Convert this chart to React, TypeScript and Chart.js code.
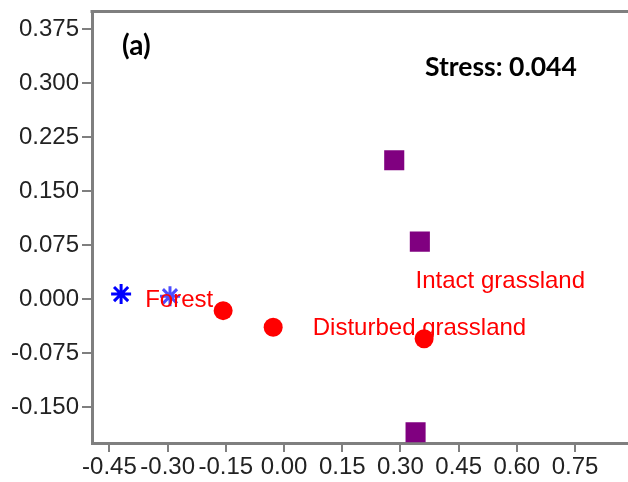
import React, { useEffect, useRef } from "react";
import { Chart, registerables } from "chart.js";

Chart.register(...registerables);

// Forest (blue asterisks)
const forestX = [-0.42, -0.294];
const forestY = [0.007, 0.004];
// Disturbed grassland (red circles)
const disturbedX = [-0.157, -0.028, 0.361];
const disturbedY = [-0.016, -0.039, -0.055];
// Intact grassland (purple squares)
const intactX = [0.284, 0.35, 0.339];
const intactY = [0.193, 0.08, -0.185];

// Group labels and their anchor (left, middle) in data units
const groupLabels = ["Forest", "Intact grassland", "Disturbed grassland"];
const groupLabelX = [-0.358, 0.339, 0.074];
const groupLabelY = [-0.002, 0.025, -0.041];

const xTicks = [-0.45, -0.3, -0.15, 0, 0.15, 0.3, 0.45, 0.6, 0.75];
const yTicks = [-0.15, -0.075, 0, 0.075, 0.15, 0.225, 0.3, 0.375];

const panelLabel = "(a)";
const stressLabel = "Stress: 0.044";

const pts = (xs: number[], ys: number[]) => xs.map((x, i) => ({ x, y: ys[i] }));

const AXIS_COLOR = "#7f7f7f";
const TICK_FONT = "'Liberation Sans', Arial, sans-serif";

const overlayPlugin = {
  id: "overlay",
  afterDatasetsDraw(chart: any) {
    const { ctx, chartArea, scales } = chart;
    ctx.save();
    // top frame line
    ctx.strokeStyle = AXIS_COLOR;
    ctx.lineWidth = 3;
    ctx.beginPath();
    ctx.moveTo(chartArea.left - 1.5, chartArea.top);
    ctx.lineTo(chartArea.right + 2, chartArea.top);
    ctx.stroke();
    // group labels
    ctx.fillStyle = "#ff0000";
    ctx.font = `24px ${TICK_FONT}`;
    ctx.textBaseline = "middle";
    ctx.textAlign = "left";
    groupLabels.forEach((t, i) => {
      ctx.fillText(t, scales.x.getPixelForValue(groupLabelX[i]), scales.y.getPixelForValue(groupLabelY[i]));
    });
    // panel label + stress
    ctx.fillStyle = "#000000";
    ctx.font = "bold 28px Lato, 'Open Sans', sans-serif";
    ctx.fillText(panelLabel, chartArea.left + 30, chartArea.top + 35);
    ctx.font = "bold 26.5px Lato, 'Open Sans', sans-serif";
    ctx.fillText(stressLabel, chartArea.left + 333, chartArea.top + 56);
    ctx.restore();
  },
};

export default function App() {
  const ref = useRef<HTMLCanvasElement>(null);
  useEffect(() => {
    if (!ref.current) return;
    const chart = new Chart(ref.current, {
      type: "scatter",
      data: {
        datasets: [
          {
            label: "Forest",
            data: pts(forestX, forestY),
            pointStyle: "star",
            pointRadius: 10,
            pointBorderWidth: 3,
            pointBorderColor: ["#0000ff", "#4d4dff"],
            pointBackgroundColor: "#0000ff",
          },
          {
            label: "Disturbed grassland",
            data: pts(disturbedX, disturbedY),
            pointStyle: "circle",
            pointRadius: 9.5,
            pointBorderWidth: 0,
            pointBackgroundColor: "#ff0000",
            pointBorderColor: "#ff0000",
          },
          {
            label: "Intact grassland",
            data: pts(intactX, intactY),
            pointStyle: "rect",
            pointRadius: 14.2,
            pointBorderWidth: 0,
            pointBackgroundColor: "#800080",
            pointBorderColor: "#800080",
          },
        ],
      },
      options: {
        animation: false,
        responsive: false,
        maintainAspectRatio: false,
        layout: { padding: { top: 10, right: 0, left: 0, bottom: 0 } },
        plugins: { legend: { display: false }, tooltip: { enabled: false } },
        scales: {
          x: {
            type: "linear",
            min: -0.495,
            max: 0.886,
            afterBuildTicks: (s: any) => {
              s.ticks = xTicks.map((v) => ({ value: v }));
            },
            afterFit: (s: any) => {
              s.height = 39;
            },
            grid: {
              display: true,
              drawOnChartArea: false,
              drawTicks: true,
              tickLength: 9,
              color: AXIS_COLOR,
              lineWidth: 2,
            },
            border: { display: true, color: AXIS_COLOR, width: 3 },
            ticks: {
              color: "#222222",
              font: { family: TICK_FONT, size: 24 },
              padding: 1,
              maxRotation: 0,
              autoSkip: false,
              callback: (v: any) => Number(v).toFixed(2),
            },
          },
          y: {
            type: "linear",
            min: -0.2,
            max: 0.4,
            afterBuildTicks: (s: any) => {
              s.ticks = yTicks.map((v) => ({ value: v }));
            },
            afterFit: (s: any) => {
              s.width = 92;
            },
            grid: {
              display: true,
              drawOnChartArea: false,
              drawTicks: true,
              tickLength: 10,
              color: AXIS_COLOR,
              lineWidth: 2,
            },
            border: { display: true, color: AXIS_COLOR, width: 3 },
            ticks: {
              color: "#222222",
              font: { family: TICK_FONT, size: 24 },
              padding: 3,
              autoSkip: false,
              callback: (v: any) => Number(v).toFixed(3),
            },
          },
        },
      },
      plugins: [overlayPlugin],
    });
    return () => chart.destroy();
  }, []);
  return (
    <div
      style={{
        position: "fixed",
        left: 0,
        top: 0,
        width: 628,
        height: 482,
        background: "#fff",
        overflow: "hidden",
      }}
    >
      <canvas
        ref={ref}
        width={642}
        height={488}
        style={{ display: "block", position: "absolute", left: 0, top: -6 }}
      />
    </div>
  );
}
